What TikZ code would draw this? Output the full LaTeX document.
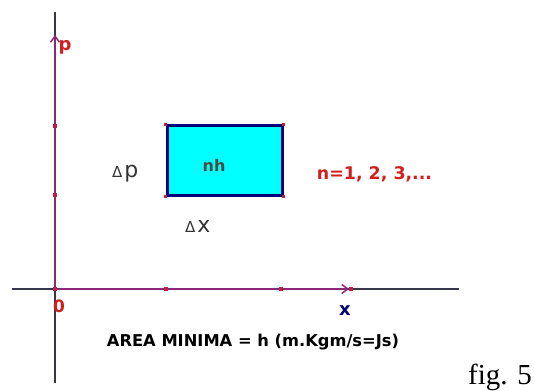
\documentclass[tikz,border=0pt]{standalone}
\usepackage{fontspec}
\setmainfont{DejaVu Sans}
\newfontfamily\figfont{Liberation Serif}
\usetikzlibrary{arrows.meta}
\definecolor{axisgray}{RGB}{55,55,75}
\definecolor{axispurple}{RGB}{140,40,120}
\definecolor{dotred}{RGB}{190,30,70}
\definecolor{boxnavy}{RGB}{0,0,120}
\definecolor{boxcyan}{RGB}{0,255,255}
\definecolor{labred}{RGB}{210,30,30}
\definecolor{nhgray}{RGB}{75,75,65}
\tikzset{
  baseaxis/.style={draw=axisgray, line width=1.3pt},
  physaxis/.style={draw=axispurple, line width=1.3pt, -{Straight Barb[length=6pt,width=9pt,line width=1.5pt]}},
  tick/.style={fill=dotred, minimum size=3.5pt, inner sep=0pt, draw=none},
  lab/.style={inner sep=0pt, anchor=center},
}
\begin{document}
\begin{tikzpicture}[x=1pt,y=-1pt]
\useasboundingbox (0,0) rectangle (534,390);
% base axes
\coordinate (vtop) at (55,12);
\coordinate (vbot) at (55,383);
\coordinate (hl) at (12,289);
\coordinate (hr) at (459,289);
\coordinate (o) at (55,289);
\coordinate (ptip) at (55,35);
\coordinate (xtip) at (349,289);
\draw[baseaxis] (vtop) -- (vbot);
\draw[baseaxis] (hl) -- (hr);
\draw[physaxis] (o) -- (ptip);
\draw[physaxis] (o) -- (xtip);
% ticks
\node[tick] (t0) at (o) {};
\node[tick] (tp1) at (55,195) {};
\node[tick] (tp2) at (55,126) {};
\node[tick] (tx1) at (166,289) {};
\node[tick] (tx2) at (281,289) {};
\node[tick] (tx3) at (351,289) {};
% box
\node[draw=boxnavy, fill=boxcyan, line width=3pt, minimum width=115pt, minimum height=69pt, inner sep=0pt] (cell) at (224.5,160.5) {};
\node[tick, minimum size=3pt] (c1) at (cell.north west) {};
\node[tick, minimum size=3pt] (c2) at (cell.north east) {};
\node[tick, minimum size=3pt] (c3) at (cell.south west) {};
\node[tick, minimum size=3pt] (c4) at (cell.south east) {};
% labels
\node[lab, text=labred, font=\bfseries\fontsize{18}{18}\selectfont] (plab) at (65,47) {p};
\node[lab, text=labred, font=\bfseries\fontsize{17}{17}\selectfont] (olab) at (59,306) {0};
\node[lab, text=boxnavy, font=\bfseries\fontsize{18}{18}\selectfont] (xlab) at (345,311) {x};
\node[lab, text=nhgray, font=\bfseries\fontsize{16}{16}\selectfont] (nh) at (214,165) {nh};
\node[lab, text=labred, font=\bfseries\fontsize{17.4}{17.4}\selectfont] (nlist) at (374.5,174) {n=1, 2, 3,...};
\node[lab, text=black!80, anchor=base west] (dp) at (112,177) {{\fontsize{15}{15}\selectfont Δ}\hspace{2pt}{\fontsize{22}{22}\selectfont p}};
\node[lab, text=black!80, anchor=base west] (dx) at (185,232) {{\fontsize{15}{15}\selectfont Δ}\hspace{2pt}{\fontsize{22}{22}\selectfont x}};
\node[lab, text=black, font=\bfseries\fontsize{16.3}{16.3}\selectfont, anchor=base] (area) at (253,346) {AREA MINIMA = h (m.Kgm/s=Js)};
\node[lab, text=black, font=\figfont\fontsize{29}{29}\selectfont, anchor=base west] (fig) at (468,384) {fig. 5};
\end{tikzpicture}
\end{document}
